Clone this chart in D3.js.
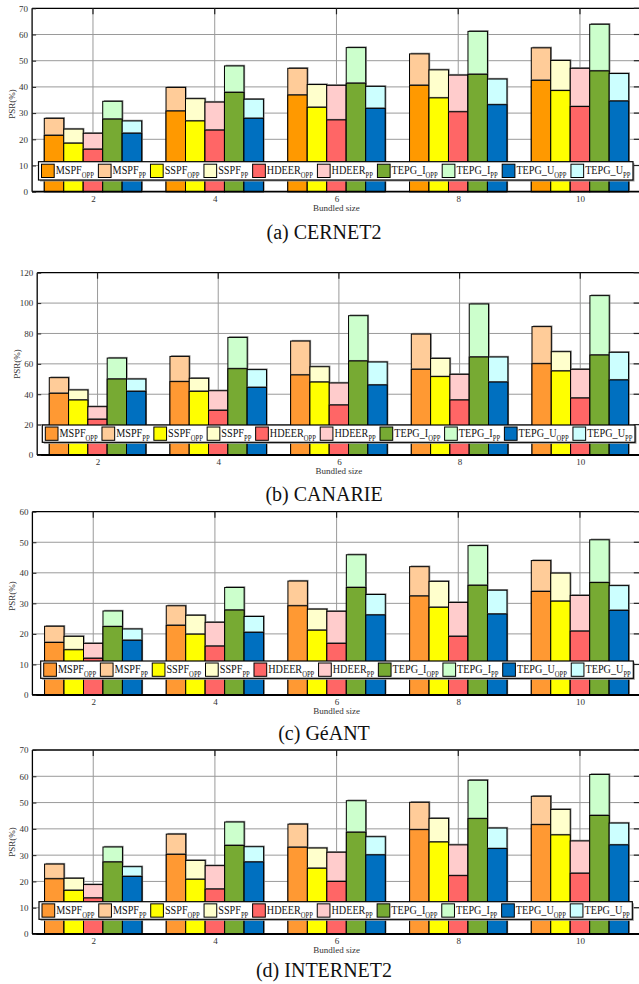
<!DOCTYPE html>
<html><head><meta charset="utf-8">
<script src="https://cdn.jsdelivr.net/npm/d3@7"></script>
<style>body{margin:0;background:#fff}svg text{font-family:"Liberation Serif","Times New Roman",serif}</style>
</head><body>
<svg id="c" width="639" height="984"></svg>
<script>
// ---------- data ----------
const categories = [2, 4, 6, 8, 10];
const methods = ["MSPF", "SSPF", "HDEER", "TEPG_I", "TEPG_U"];
const panelTitles = ["(a) CERNET2", "(b) CANARIE", "(c) GéANT", "(d) INTERNET2"];
const yMaxes = [70, 120, 60, 70];
const yTickSteps = [10, 20, 10, 10];
const xAxisTitle = "Bundled size";
const yAxisTitle = "PSR(%)";

// rows = methods (MSPF, SSPF, HDEER, TEPG_I, TEPG_U), columns = bundled size 2..10
const cernet2Opp = [
  [21.5, 30.8, 36.9, 40.6, 42.5],
  [18.5, 27.0, 32.2, 35.8, 38.6],
  [16.2, 23.5, 27.4, 30.5, 32.5],
  [27.7, 37.9, 41.4, 44.8, 46.1],
  [22.3, 28.0, 31.8, 33.2, 34.6]
];
const cernet2Pp = [
  [28.0, 39.8, 47.1, 52.6, 54.9],
  [23.9, 35.5, 40.9, 46.5, 50.1],
  [22.3, 34.2, 40.6, 44.5, 47.1],
  [34.5, 48.0, 55.0, 61.2, 63.9],
  [27.0, 35.3, 40.2, 43.0, 45.1]
];
const canarieOpp = [
  [40.6, 48.3, 52.7, 56.4, 60.1],
  [36.2, 41.9, 48.0, 51.6, 55.3],
  [23.5, 29.4, 32.9, 36.2, 37.5],
  [50.0, 56.8, 61.9, 64.5, 65.8],
  [41.9, 44.5, 46.1, 48.0, 49.4]
];
const canariePp = [
  [50.9, 64.9, 75.0, 79.6, 84.5],
  [42.8, 50.5, 58.1, 63.6, 68.0],
  [31.8, 42.3, 47.4, 53.1, 56.4],
  [63.8, 77.4, 91.7, 99.4, 104.9],
  [50.0, 56.2, 61.2, 64.5, 67.6]
];
const geantOpp = [
  [17.2, 22.8, 29.2, 32.4, 33.9],
  [14.8, 19.9, 21.2, 28.7, 30.7],
  [12.0, 16.0, 16.9, 19.2, 20.9],
  [22.4, 27.8, 35.2, 35.9, 36.8],
  [17.9, 20.5, 26.2, 26.5, 27.7]
];
const geantPp = [
  [22.5, 29.2, 37.3, 42.0, 44.0],
  [19.2, 26.1, 28.1, 37.2, 39.9],
  [16.9, 23.8, 27.4, 30.3, 32.6],
  [27.5, 35.2, 45.9, 48.9, 50.8],
  [21.6, 25.7, 32.9, 34.3, 35.8]
];
const internet2Opp = [
  [21.0, 30.3, 33.0, 39.7, 41.6],
  [16.6, 20.8, 25.0, 35.0, 37.7],
  [13.7, 17.1, 20.0, 22.2, 23.1],
  [27.4, 33.7, 38.7, 43.9, 45.1],
  [21.9, 27.4, 30.1, 32.5, 33.9]
];
const internet2Pp = [
  [26.6, 38.0, 41.8, 50.1, 52.4],
  [21.2, 28.0, 32.7, 44.0, 47.4],
  [18.8, 26.0, 31.1, 33.9, 35.4],
  [33.1, 42.6, 50.7, 58.5, 60.7],
  [25.6, 33.2, 37.0, 40.3, 42.2]
];

// ---------- styles / layout ----------
const oppColors = ["#ff9900", "#ffff00", "#ff6666", "#77aa33", "#0070c0"];
const ppColors = ["#ffcc99", "#ffffcc", "#ffcccc", "#ccffcc", "#ccffff"];
const mspfOppPanel = ["#ff9900", "#ff9933", "#ff9933", "#ff9933"];

const panels = [
  {opp: cernet2Opp, pp: cernet2Pp, left: 32.1, unit: 60.875, top: 8.3, base: 191.7, legTop: 161.7, legLeft: 38.5, legRight: 633, legH: 18.3, labelY: 104, capOff: 47.3},
  {opp: canarieOpp, pp: canariePp, left: 37.2, unit: 60.34, top: 272.7, base: 455, legTop: 425, legLeft: 42.3, legRight: 635, legH: 17.3, labelY: 364, capOff: 46},
  {opp: geantOpp, pp: geantPp, left: 32.4, unit: 60.84, top: 511.7, base: 695, legTop: 661, legLeft: 40.7, legRight: 633.3, legH: 17.3, labelY: 596, capOff: 45},
  {opp: internet2Opp, pp: internet2Pp, left: 32.4, unit: 60.84, top: 750, base: 934, legTop: 901.7, legLeft: 39, legRight: 632.3, legH: 17.6, labelY: 842, capOff: 42.5}
];

const svg = d3.select("#c");
const sx = 0.85; // horizontal condensing of legend text

panels.forEach((p, pi) => {
  const g = svg.append("g");
  const x = d3.scaleLinear().domain([1, 11]).range([p.left, p.left + 10 * p.unit]);
  const y = d3.scaleLinear().domain([0, yMaxes[pi]]).range([p.base, p.top]);
  const yTicks = d3.range(0, yMaxes[pi] + 0.001, yTickSteps[pi]);
  const xr = x(11);

  // grid
  g.append("g").selectAll("line").data(yTicks.filter(t => t > 0 && t < yMaxes[pi])).join("line")
    .attr("x1", p.left).attr("x2", xr).attr("y1", d => y(d)).attr("y2", d => y(d))
    .attr("stroke", "#9a9a9a").attr("stroke-width", 1);
  g.append("g").selectAll("line").data(categories).join("line")
    .attr("x1", d => x(d)).attr("x2", d => x(d)).attr("y1", p.top).attr("y2", p.base)
    .attr("stroke", "#9a9a9a").attr("stroke-width", 1);

  // bars
  const bw = 0.32;
  const bars = [];
  categories.forEach((c, ci) => {
    methods.forEach((m, mi) => {
      bars.push({c, mi, opp: p.opp[mi][ci], pp: p.pp[mi][ci]});
    });
  });
  const bg = g.append("g");
  const xb = d => x(d.c - 0.8 + d.mi * bw);
  const wb = x(1 + bw) - x(1);
  bars.forEach(d => {
    const ppCol = ppColors[d.mi];
    const oppCol = d.mi === 0 ? mspfOppPanel[pi] : oppColors[d.mi];
    bg.append("rect").attr("x", xb(d) + 1.2).attr("y", y(d.pp) - 1.2).attr("width", wb).attr("height", p.base - y(d.pp))
      .attr("fill", "#8a8a8a");
    bg.append("rect").attr("x", xb(d)).attr("y", y(d.pp)).attr("width", wb).attr("height", p.base - y(d.pp))
      .attr("fill", ppCol).attr("stroke", "#000").attr("stroke-width", 1);
    bg.append("rect").attr("x", xb(d)).attr("y", y(d.opp) - 1).attr("width", wb).attr("height", 1.2)
      .attr("fill", "#6a6a6a");
    bg.append("rect").attr("x", xb(d)).attr("y", y(d.opp)).attr("width", wb).attr("height", p.base - y(d.opp))
      .attr("fill", oppCol).attr("stroke", "#000").attr("stroke-width", 1);
  });

  // legend
  const lg = g.append("g");
  lg.append("rect").attr("x", p.legLeft + 1.5).attr("y", p.legTop + 1.5).attr("width", p.legRight - p.legLeft).attr("height", p.legH).attr("fill", "#999");
  lg.append("rect").attr("x", p.legLeft).attr("y", p.legTop).attr("width", p.legRight - p.legLeft).attr("height", p.legH)
    .attr("fill", "#fff").attr("stroke", "#000").attr("stroke-width", 1.2);
  const items = [];
  methods.forEach((m, mi) => {
    items.push({name: m, sub: "OPP", color: mi === 0 ? mspfOppPanel[pi] : oppColors[mi]});
    items.push({name: m, sub: "PP", color: ppColors[mi]});
  });
  const sw = 12.7, sh = 13.3;
  const textGroups = items.map(it => {
    const tg = lg.append("g");
    const t = tg.append("text").attr("font-size", 12).attr("fill", "#111");
    t.append("tspan").text(it.name);
    t.append("tspan").attr("font-size", 7.8).attr("dy", 3.8).text(it.sub);
    return {tg, t};
  });
  const widths = textGroups.map(o => o.t.node().getComputedTextLength() * sx);
  const natural = widths.map(w => sw + 2 + w);
  const avail = p.legRight - p.legLeft - 3 - 2;
  const gap = (avail - d3.sum(natural)) / (items.length - 1);
  let cx = p.legLeft + 3;
  const cy = p.legTop + p.legH / 2;
  items.forEach((it, i) => {
    lg.append("rect").attr("x", cx).attr("y", cy - sh / 2).attr("width", sw).attr("height", sh)
      .attr("fill", it.color).attr("stroke", "#000").attr("stroke-width", 1);
    textGroups[i].tg.attr("transform", `translate(${cx + sw + 1.5},${cy + 3.4}) scale(${sx},1)`);
    cx += natural[i] + gap;
  });

  // axes frame
  g.append("line").attr("x1", p.left).attr("x2", xr).attr("y1", p.base).attr("y2", p.base).attr("stroke", "#000").attr("stroke-width", 1.8);
  g.append("line").attr("x1", p.left).attr("x2", xr).attr("y1", p.top).attr("y2", p.top).attr("stroke", "#000").attr("stroke-width", 1.3);
  g.append("line").attr("x1", p.left).attr("x2", p.left).attr("y1", p.top).attr("y2", p.base).attr("stroke", "#000").attr("stroke-width", 1.3);
  g.append("line").attr("x1", xr - 0.5).attr("x2", xr - 0.5).attr("y1", p.top).attr("y2", p.base).attr("stroke", "#000").attr("stroke-width", 1.3);

  // y axis with inward ticks
  const ya = g.append("g").attr("transform", `translate(${p.left},0)`)
    .call(d3.axisLeft(y).tickValues(yTicks).tickSize(-4).tickPadding(4).tickFormat(d3.format("d")));
  ya.select(".domain").remove();
  ya.selectAll("line").attr("stroke", "#222");
  ya.selectAll("text").attr("font-size", 9).attr("fill", "#333").style("font-family", "Liberation Serif");
  // right inward ticks
  g.append("g").selectAll("line").data(yTicks.filter(t => t > 0)).join("line")
    .attr("x1", xr - 7).attr("x2", xr).attr("y1", d => y(d)).attr("y2", d => y(d)).attr("stroke", "#222").attr("stroke-width", 1.2);
  // top inward ticks
  g.append("g").selectAll("line").data(categories).join("line")
    .attr("x1", d => x(d)).attr("x2", d => x(d)).attr("y1", p.top).attr("y2", p.top + 6).attr("stroke", "#222").attr("stroke-width", 1.2);

  // x axis labels
  const xa = g.append("g").attr("transform", `translate(0,${p.base})`)
    .call(d3.axisBottom(x).tickValues(categories).tickSize(0).tickPadding(4).tickFormat(d3.format("d")));
  xa.select(".domain").remove();
  xa.selectAll("text").attr("font-size", 9).attr("fill", "#333").style("font-family", "Liberation Serif");

  g.append("text").attr("x", x(6)).attr("y", p.base + 19).attr("text-anchor", "middle")
    .attr("font-size", 9).attr("fill", "#333").text(xAxisTitle);
  g.append("text").attr("transform", `translate(${p.left - 17.5},${p.labelY}) rotate(-90)`).attr("text-anchor", "middle")
    .attr("font-size", 9).attr("fill", "#333").text(yAxisTitle);

  g.append("text").attr("x", 324).attr("y", p.base + p.capOff).attr("text-anchor", "middle")
    .attr("font-size", 20).attr("fill", "#111").text(panelTitles[pi]);
});
</script>
</body></html>
